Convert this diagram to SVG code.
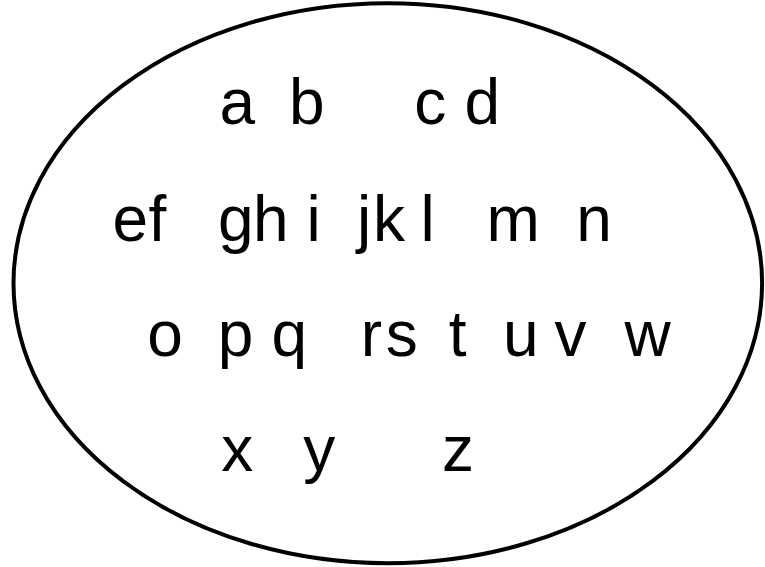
<svg xmlns="http://www.w3.org/2000/svg" width="765" height="567" viewBox="0 0 765 567">
<style>
.t{font-family:"Liberation Sans",Arial,sans-serif;font-size:64px;fill:#000}
.e{fill:#fff;stroke:#000;stroke-width:4}
</style>
<rect width="765" height="567" fill="#fff"/>
<g id="set">
<ellipse class="e" cx="387.8" cy="283.2" rx="374.3" ry="280"/>
</g>
<g id="row1" class="t">
<text x="219.4" y="124">a</text>
<text x="289.1" y="124">b</text>
<text x="414.2" y="124">c</text>
<text x="464.5" y="124">d</text>
</g>
<g id="row2" class="t">
<text x="112.4" y="241">e</text>
<text x="148.4" y="241">f</text>
<text x="218" y="241">g</text>
<text x="253" y="241">h</text>
<text x="306.5" y="241">i</text>
<text x="357" y="241">j</text>
<text x="373" y="241">k</text>
<text x="420.6" y="241">l</text>
<text x="486.6" y="241">m</text>
<text x="576.2" y="241">n</text>
</g>
<g id="row3" class="t">
<text x="147.2" y="356">o</text>
<text x="217.7" y="356">p</text>
<text x="271.6" y="356">q</text>
<text x="360.8" y="356">r</text>
<text x="385.8" y="356">s</text>
<text x="448.8" y="356">t</text>
<text x="502.9" y="356">u</text>
<text x="554.6" y="356">v</text>
<text x="624.4" y="356">w</text>
</g>
<g id="row4" class="t">
<text x="221.3" y="470.5">x</text>
<text x="303.2" y="470.5">y</text>
<text x="442" y="470.5">z</text>
</g>
</svg>
